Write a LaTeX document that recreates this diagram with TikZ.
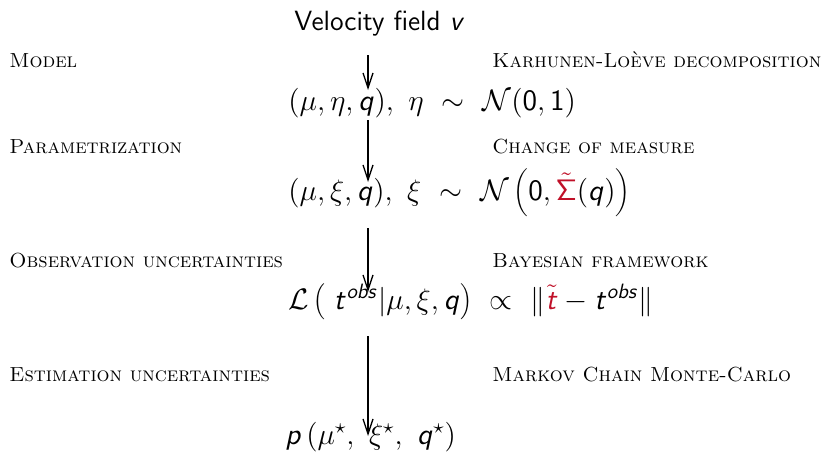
\RequirePackage{fix-cm}
\documentclass[tikz,border=0pt]{standalone}
\usetikzlibrary{arrows.meta}
\DeclareMathAlphabet{\mathsfit}{OT1}{cmss}{m}{sl}
\DeclareMathAlphabet{\mathsfup}{OT1}{cmss}{m}{n}
\definecolor{myred}{RGB}{192,16,40}
\newcommand{\sq}{\mathsfit{q}}
\newcommand{\st}{\mathsfit{t}}
\newcommand{\sobs}{\mathsfit{obs}}
\begin{document}
\begin{tikzpicture}[x=0.5pt,y=-0.5pt,
  lbl/.style={anchor=base west,inner sep=0pt,font=\fontsize{10.2}{12}\selectfont\scshape},
  eq/.style={anchor=base west,inner sep=0pt,font=\fontsize{14.8}{17}\selectfont},
  arr/.style={-{Straight Barb[length=7.5pt,width=5pt]},line width=0.65pt}]
\useasboundingbox (0,0) rectangle (830,455);
\node[eq,font=\fontsize{13.9}{17}\selectfont] (v) at (294,30) {\sffamily Velocity field $\mathsfit{v}$};
\node[lbl] (l1) at (9,67) {Model};
\node[lbl] (r1) at (492,67) {Karhunen-Lo\`eve decomposition};
\node[eq] (e1) at (288,110) {$(\mu,\eta,\sq),\ \eta\ \sim\ \mathcal{N}(\mathsfup{0},\mathsfup{1})$};
\node[lbl] (l2) at (9,153) {Parametrization};
\node[lbl] (r2) at (492,153) {Change of measure};
\node[eq] (e2) at (288,200) {$(\mu,\xi,\sq),\ \xi\ \sim\ \mathcal{N}\left(\mathsfup{0},\textcolor{myred}{\tilde{\mathsfup{\Sigma}}}(\sq)\right)$};
\node[lbl] (l3) at (9,267) {Observation uncertainties};
\node[lbl] (r3) at (492,267) {Bayesian framework};
\node[eq] (e3) at (288,309) {$\mathcal{L}\left(\;\st^{\sobs}|\mu,\xi,\sq\right)\ \propto\ \bigl\|\textcolor{myred}{\tilde{\st}}-\st^{\sobs}\bigr\|$};
\node[lbl] (l4) at (9,381) {Estimation uncertainties};
\node[lbl] (r4) at (492,381) {Markov Chain Monte-Carlo};
\node[eq] (e4) at (285,444) {$\mathsfit{p}\left(\mu^{\star},\ \xi^{\star},\ \sq^{\star}\right)$};
\coordinate (a1s) at (368,55);  \coordinate (a1e) at (368,90);
\coordinate (a2s) at (368,120); \coordinate (a2e) at (368,182);
\coordinate (a3s) at (368,228); \coordinate (a3e) at (368,292);
\coordinate (a4s) at (368,336); \coordinate (a4e) at (368,436);
\draw[arr] (a1s) -- (a1e);
\draw[arr] (a2s) -- (a2e);
\draw[arr] (a3s) -- (a3e);
\draw[arr] (a4s) -- (a4e);
\end{tikzpicture}
\end{document}
